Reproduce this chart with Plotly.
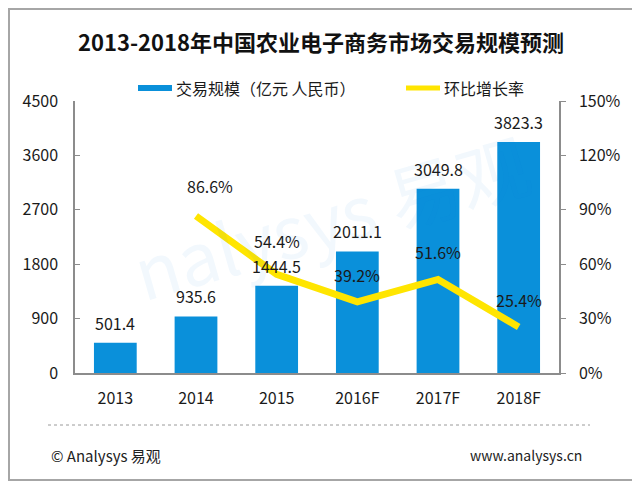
import plotly.graph_objects as go

categories = ["2013", "2014", "2015", "2016F", "2017F", "2018F"]
scale_values = [501.4, 935.6, 1444.5, 2011.1, 3049.8, 3823.3]
growth_categories = ["2014", "2015", "2016F", "2017F", "2018F"]
growth_values = [86.6, 54.4, 39.2, 51.6, 25.4]
left_ticks = [0, 900, 1800, 2700, 3600, 4500]
right_ticks = [0, 30, 60, 90, 120, 150]

title_text = "2013-2018年中国农业电子商务市场交易规模预测"
bar_name = "交易规模（亿元 人民币）"
line_name = "环比增长率"
footer_left = "© Analysys 易观"
footer_right = "www.analysys.cn"
watermark_text = "nalysys 易观"

FONT = "Noto Sans CJK SC"
BAR_COLOR = "#0A90DA"
LINE_COLOR = "#FFE500"
AXIS_COLOR = "#8C8C8C"
TEXT_COLOR = "#1A1A1A"

# the page places the figure 8px in from the top-left corner of the window
OFF = 8
# plot area in window pixels
L, R, T, B = 75, 559, 101, 373
W, H = 630, 475
pw, ph = R - L, B - T


def px(x):
    return (x - L) / pw


def py(y):
    return (B - y) / ph


fig = go.Figure()
fig.add_trace(go.Bar(
    x=categories, y=scale_values, name=bar_name,
    marker=dict(color=BAR_COLOR, line=dict(width=0)),
    showlegend=False, hoverinfo="x+y",
))
fig.add_trace(go.Scatter(
    x=growth_categories, y=growth_values, name=line_name, yaxis="y2",
    mode="lines", line=dict(color=LINE_COLOR, width=7),
    showlegend=False,
))

annotations = []
# faint watermark
annotations.append(dict(
    x=px(330), y=py(215), xref="paper", yref="paper", text=watermark_text,
    showarrow=False, xanchor="center", yanchor="middle", textangle=-16,
    font=dict(family=FONT, size=72, color="rgba(20,130,210,0.055)"),
))
for c, v in zip(categories, scale_values):
    annotations.append(dict(
        x=categories.index(c), y=v, xref="x", yref="y", text=f"{v:.1f}", showarrow=False,
        yanchor="bottom", yshift=6,
        font=dict(family=FONT, size=16, color=TEXT_COLOR),
    ))
line_label_yshift = [16, 19, 13, 13, 13]
for i, (c, v) in enumerate(zip(growth_categories, growth_values)):
    annotations.append(dict(
        x=categories.index(c), y=v, xref="x", yref="y2", text=f"{v:.1f}%", showarrow=False,
        yanchor="bottom", yshift=line_label_yshift[i], xshift=14 if i == 0 else 0,
        font=dict(family=FONT, size=16, color=TEXT_COLOR),
    ))

# title
annotations.append(dict(
    x=px(321), y=py(41), xref="paper", yref="paper", text=f"<b>{title_text}</b>",
    showarrow=False, xanchor="center", yanchor="middle",
    font=dict(family=FONT, size=22, color="#111111"),
))
# legend texts
annotations.append(dict(
    x=px(174), y=py(88), xref="paper", yref="paper", text=bar_name,
    showarrow=False, xanchor="left", yanchor="middle",
    font=dict(family=FONT, size=16, color=TEXT_COLOR),
))
annotations.append(dict(
    x=px(442), y=py(88), xref="paper", yref="paper", text=line_name,
    showarrow=False, xanchor="left", yanchor="middle",
    font=dict(family=FONT, size=16, color=TEXT_COLOR),
))
# footer
annotations.append(dict(
    x=px(49), y=py(455), xref="paper", yref="paper", text=footer_left,
    showarrow=False, xanchor="left", yanchor="middle",
    font=dict(family=FONT, size=15, color="#222222"),
))
annotations.append(dict(
    x=px(584), y=py(455), xref="paper", yref="paper", text=footer_right,
    showarrow=False, xanchor="right", yanchor="middle",
    font=dict(family=FONT, size=14, color="#222222"),
))

shapes = [
    # outer border
    dict(type="rect", xref="paper", yref="paper", x0=px(9), x1=px(633), y0=py(480), y1=py(9),
         line=dict(color="#A6A6A6", width=2), fillcolor="rgba(0,0,0,0)", layer="below"),
    # legend swatches
    dict(type="rect", xref="paper", yref="paper", x0=px(138), x1=px(172), y0=py(91), y1=py(85),
         line=dict(width=0), fillcolor=BAR_COLOR),
    dict(type="line", xref="paper", yref="paper", x0=px(406), x1=px(440), y0=py(88), y1=py(88),
         line=dict(color=LINE_COLOR, width=5)),
    # dotted separator
    dict(type="line", xref="paper", yref="paper", x0=px(48), x1=px(590), y0=py(425), y1=py(425),
         line=dict(color="#9A9A9A", width=1, dash="dot")),
]

fig.update_layout(
    width=W, height=H,
    margin=dict(l=L - OFF, r=W - (R - OFF), t=T - OFF, b=H - (B - OFF), pad=0),
    paper_bgcolor="white", plot_bgcolor="white",
    bargap=0.47,
    showlegend=False,
    font=dict(family=FONT, color=TEXT_COLOR),
    xaxis=dict(
        type="category", categoryorder="array", categoryarray=categories,
        range=[-0.5, len(categories) - 0.5], autorange=False,
        showline=True, linecolor=AXIS_COLOR, linewidth=1.5,
        ticks="", showgrid=False, ticklabelstandoff=10,
        tickfont=dict(family=FONT, size=16, color=TEXT_COLOR),
    ),
    yaxis=dict(
        range=[0, 4500], tickvals=left_ticks, showline=True, linecolor=AXIS_COLOR, linewidth=1.5,
        ticks="inside", ticklen=5, tickcolor=AXIS_COLOR, showgrid=False, zeroline=False,
        ticklabelstandoff=12,
        tickfont=dict(family=FONT, size=16, color=TEXT_COLOR),
    ),
    yaxis2=dict(
        range=[0, 150], tickvals=right_ticks, ticktext=[f"{t}%" for t in right_ticks],
        overlaying="y", side="right", showline=True, linecolor=AXIS_COLOR, linewidth=1.5,
        ticks="outside", ticklen=5, tickcolor=AXIS_COLOR, showgrid=False, zeroline=False,
        ticklabelstandoff=10,
        tickfont=dict(family=FONT, size=16, color=TEXT_COLOR),
    ),
    annotations=annotations,
    shapes=shapes,
)

fig.write_html("out.html")
